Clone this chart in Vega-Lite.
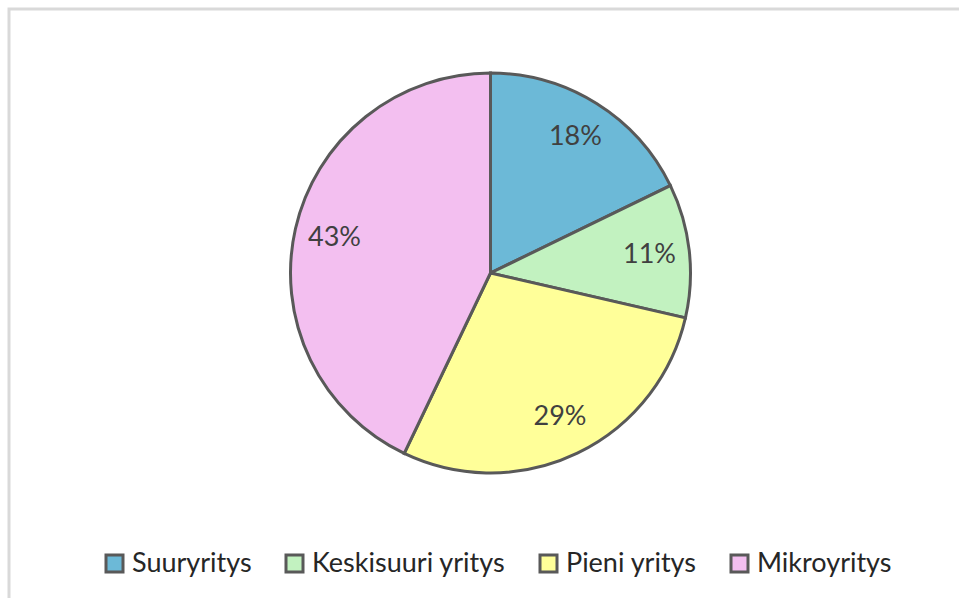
{
  "$schema": "https://vega.github.io/schema/vega-lite/v6.json",
  "autosize": {"type": "fit", "contains": "padding"},
  "width": 959,
  "height": 598,
  "padding": {"left": 9, "top": 9, "right": -3, "bottom": -3},
  "background": "white",
  "view": {"stroke": "#d9d9d9", "strokeWidth": 3, "fill": "white"},
  "config": {
    "view": {"stroke": "#d9d9d9", "strokeWidth": 3},
    "font": "Lato"
  },
  "data": {
    "values": [
      {"category": "Suuryritys", "share": 17.8, "label": "18%", "rank": 1},
      {"category": "Keskisuuri yritys", "share": 10.8, "label": "11%", "rank": 2},
      {"category": "Pieni yritys", "share": 28.5, "label": "29%", "rank": 3},
      {"category": "Mikroyritys", "share": 42.9, "label": "43%", "rank": 4}
    ]
  },
  "encoding": {
    "theta": {"field": "share", "type": "quantitative", "stack": true},
    "order": {"field": "rank", "type": "quantitative"}
  },
  "layer": [
    {
      "mark": {"type": "arc", "outerRadius": 200, "stroke": "#595959", "strokeWidth": 3, "xOffset": 5, "yOffset": -32},
      "encoding": {
        "color": {
          "field": "category",
          "type": "nominal",
          "sort": ["Suuryritys", "Keskisuuri yritys", "Pieni yritys", "Mikroyritys"],
          "scale": {
            "domain": ["Suuryritys", "Keskisuuri yritys", "Pieni yritys", "Mikroyritys"],
            "range": ["#6cb9d7", "#c2f2c0", "#ffff99", "#f3bff0"]
          },
          "legend": {
            "title": null,
            "orient": "none",
            "direction": "horizontal",
            "legendX": 92,
            "legendY": 541,
            "symbolType": "square",
            "symbolSize": 289,
            "symbolStrokeColor": "#595959",
            "symbolStrokeWidth": 3,
            "labelFont": "Lato",
            "labelFontSize": 27,
            "labelColor": "#262626",
            "labelOffset": 4,
            "columnPadding": 28,
            "padding": 0,
            "labelLimit": 400
          }
        }
      }
    },
    {
      "mark": {"type": "text", "radius": 160, "fontSize": 27, "font": "Lato", "color": "#404040", "xOffset": 5, "yOffset": -32},
      "encoding": {
        "text": {"field": "label", "type": "nominal"}
      }
    }
  ]
}
